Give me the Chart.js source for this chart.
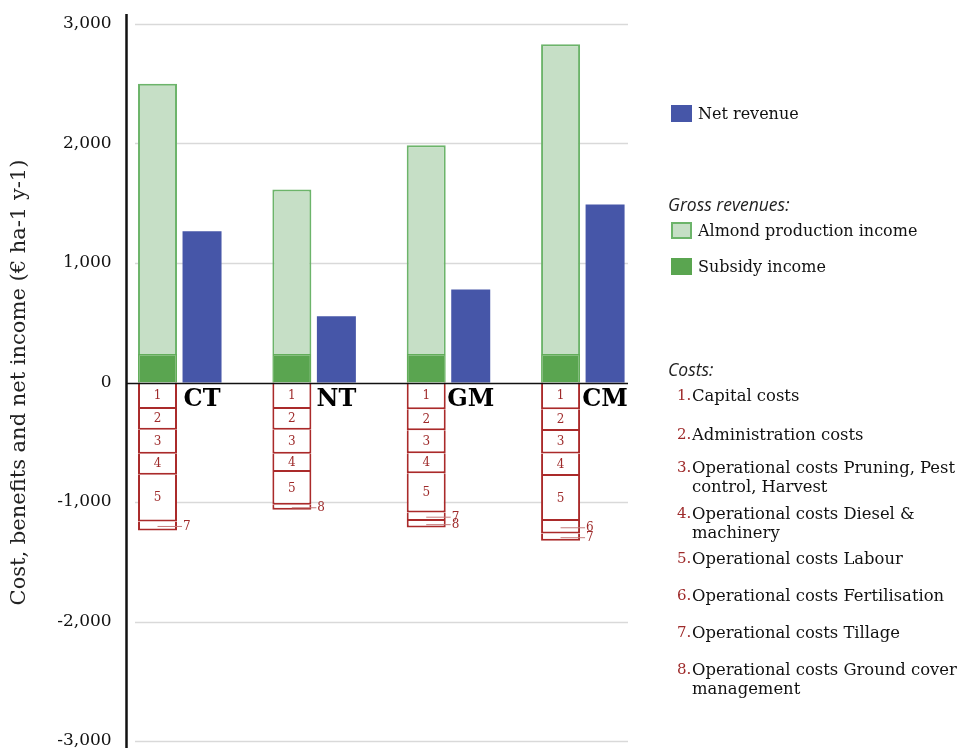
<!DOCTYPE html>
<html>
<head>
<meta charset="utf-8">
<script src="https://cdn.jsdelivr.net/npm/chart.js@4.4.1/dist/chart.umd.min.js"></script>
<style>
  html, body { margin: 0; padding: 0; background: #fff; }
  #wrap { position: relative; width: 963px; height: 748px; overflow: hidden; }
  #legend { position: absolute; left: 0; top: 0; font-family: 'DejaVu Serif', serif; font-size: 16px; color: #111; }
  .row { position: absolute; left: 671px; display: flex; align-items: center; white-space: nowrap; }
  .sw { width: 21px; height: 17px; margin-right: 6px; box-sizing: border-box; }
  .head { position: absolute; left: 668px; font-family: 'Open Sans', sans-serif; font-style: italic; font-size: 17.5px; color: #222; white-space: nowrap; }
  .cost { position: absolute; left: 677px; display: flex; line-height: 19px; width: 290px; font-size: 16.4px; }
  .cost .n { color: #9e2a2a; font-size: 15px; min-width: 15px; }
</style>
</head>
<body>
<div id="wrap">
  <canvas id="chart" width="963" height="748"></canvas>
  <div id="legend"></div>
</div>
<script>
const categories = ["CT", "NT", "GM", "CM"];
const subsidyIncome = [238, 238, 238, 238];
const almondIncome = [2262, 1377, 1747, 2592];
const netRevenue = [1265, 555, 778, 1490];

// cost items (€ ha-1 y-1), null = not applied
const costNames = [
  "Capital costs",
  "Administration costs",
  "Operational costs Pruning, Pest control, Harvest",
  "Operational costs Diesel & machinery",
  "Operational costs Labour",
  "Operational costs Fertilisation",
  "Operational costs Tillage",
  "Operational costs Ground cover management"
];
const capitalCosts = [222, 222, 224, 224];
const adminCosts = [173, 173, 176, 181];
const pruningCosts = [201, 201, 192, 190];
const dieselCosts = [176, 153, 167, 187];
const labourCosts = [391, 274, 329, 377];
const fertilisationCosts = [null, null, null, 105];
const tillageCosts = [75, null, 70, 61];
const groundCoverCosts = [null, 42, 55, null];
const costSeries = [capitalCosts, adminCosts, pruningCosts, dieselCosts, labourCosts, fertilisationCosts, tillageCosts, groundCoverCosts];

const yTicks = [-3000, -2000, -1000, 0, 1000, 2000, 3000];

const SERIF = "'DejaVu Serif', serif";
const costRed = "#aa2a2a";
const costText = "#9e2a2a";

const datasets = [
  {
    label: "Subsidy income",
    data: subsidyIncome,
    backgroundColor: "#5aa550",
    borderColor: "#62ad5a",
    borderWidth: 1.5,
    stack: "g"
  },
  {
    label: "Almond production income",
    data: almondIncome,
    backgroundColor: "#c6dfc6",
    borderColor: "#6cb46a",
    borderWidth: 2,
    stack: "g"
  }
];
costSeries.forEach((arr, i) => {
  datasets.push({
    label: costNames[i],
    data: arr.map(v => v == null ? null : -v),
    backgroundColor: "#ffffff",
    borderColor: costRed,
    borderWidth: 2,
    borderSkipped: "start",
    inflateAmount: 0,
    stack: "g",
    costNo: i + 1
  });
});
datasets.push({
  label: "Net revenue",
  data: netRevenue,
  backgroundColor: "#4656a8",
  borderColor: "#4656a8",
  borderWidth: 0,
  stack: "n"
});

// axis + gridlines drawn like the original (axis off to the side of the slots)
const axisPlugin = {
  id: "axisLines",
  beforeDatasetsDraw(chart) {
    const ctx = chart.ctx, y = chart.scales.y;
    ctx.save();
    ctx.strokeStyle = "#d9d9d9";
    ctx.lineWidth = 1.5;
    yTicks.forEach(t => {
      if (t === 0) return;
      const py = Math.round(y.getPixelForValue(t)) + 0.5;
      ctx.beginPath();
      ctx.moveTo(135, py);
      ctx.lineTo(628, py);
      ctx.stroke();
    });
    ctx.restore();
  },
  afterDatasetsDraw(chart) {
    const ctx = chart.ctx, y = chart.scales.y;
    ctx.save();
    ctx.strokeStyle = "#111";
    ctx.lineWidth = 1.5;
    const py = Math.round(y.getPixelForValue(0)) + 0.5;
    ctx.beginPath();
    ctx.moveTo(127, py);
    ctx.lineTo(628, py);
    ctx.stroke();
    ctx.lineWidth = 2.5;
    ctx.beginPath();
    ctx.moveTo(126.5, 14);
    ctx.lineTo(126.5, 748);
    ctx.stroke();
    ctx.restore();
  }
};

// numbers on cost segments + category names
const labelPlugin = {
  id: "costLabels",
  afterDatasetsDraw(chart) {
    const ctx = chart.ctx;
    ctx.save();
    chart.data.datasets.forEach((ds, di) => {
      if (!ds.costNo) return;
      const meta = chart.getDatasetMeta(di);
      meta.data.forEach((bar, i) => {
        if (ds.data[i] == null) return;
        const h = Math.abs(bar.base - bar.y);
        const yc = (bar.base + bar.y) / 2;
        ctx.fillStyle = costText;
        ctx.font = "12px " + SERIF;
        ctx.textBaseline = "middle";
        if (h > 15) {
          ctx.textAlign = "center";
          ctx.fillText(String(ds.costNo), bar.x, yc);
        } else {
          const right = bar.x + bar.width / 2;
          ctx.strokeStyle = "#c47a7a";
          ctx.lineWidth = 1;
          ctx.beginPath();
          ctx.moveTo(bar.x, yc + 0.5);
          ctx.lineTo(right + 5, yc + 0.5);
          ctx.stroke();
          ctx.textAlign = "left";
          ctx.fillText(String(ds.costNo), right + 6, yc + 1);
        }
      });
    });
    const netMeta = chart.getDatasetMeta(chart.data.datasets.length - 1);
    const zero = chart.scales.y.getPixelForValue(0);
    ctx.fillStyle = "#000";
    ctx.font = "bold 24px " + SERIF;
    ctx.textAlign = "center";
    ctx.textBaseline = "middle";
    chart.data.labels.forEach((lab, i) => {
      ctx.fillText(lab, netMeta.data[i].x, zero + 17);
    });
    ctx.restore();
  }
};

new Chart(document.getElementById("chart").getContext("2d"), {
  type: "bar",
  data: { labels: categories, datasets: datasets },
  plugins: [axisPlugin, labelPlugin],
  options: {
    responsive: false,
    animation: false,
    layout: { padding: { top: 24, bottom: 7, left: 0, right: 313 } },
    categoryPercentage: 0.6627,
    barPercentage: 0.876,
    plugins: { legend: { display: false }, tooltip: { enabled: false } },
    scales: {
      x: { display: false, stacked: true },
      y: {
        stacked: true,
        min: -3000,
        max: 3000,
        afterBuildTicks(scale) { scale.ticks = yTicks.map(v => ({ value: v })); },
        afterFit(scale) { scale.width = 112.6; scale.paddingTop = 0; scale.paddingBottom = 0; },
        grid: { display: false, drawTicks: false },
        border: { display: false },
        ticks: {
          padding: 1,
          color: "#111",
          font: { family: SERIF, size: 17 },
          callback: v => v.toLocaleString("en-US")
        },
        title: {
          display: true,
          text: "Cost, benefits and net income (€ ha-1 y-1)",
          color: "#222",
          font: { family: SERIF, size: 21 },
          padding: { top: 7, bottom: 0 }
        }
      }
    }
  }
});

// legend on the right
const lg = document.getElementById("legend");
function add(html) { lg.insertAdjacentHTML("beforeend", html); }
add('<div class="row" style="top:104px"><div class="sw" style="background:#4656a8"></div>Net revenue</div>');
add('<div class="head" style="top:192px">Gross revenues:</div>');
add('<div class="row" style="top:221px"><div class="sw" style="background:#c6dfc6;border:2px solid #6cb46a"></div>Almond production income</div>');
add('<div class="row" style="top:257px"><div class="sw" style="background:#5aa550"></div>Subsidy income</div>');
add('<div class="head" style="top:357px">Costs:</div>');
const costTops = [386, 425, 458, 504, 549, 586, 623, 660];
costNames.forEach((name, i) => {
  add('<div class="cost" style="top:' + costTops[i] + 'px"><span class="n">' + (i + 1) + '.</span><span>' +
    name.replace("&", "&amp;") + '</span></div>');
});
</script>
</body>
</html>
